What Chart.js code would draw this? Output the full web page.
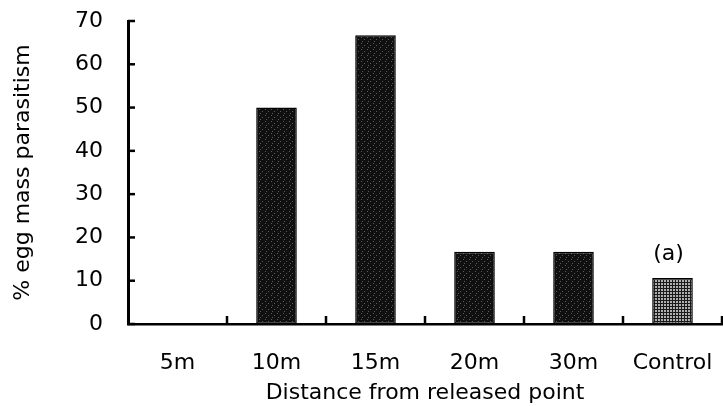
<!DOCTYPE html>
<html>
<head>
<meta charset="utf-8">
<script src="https://cdn.jsdelivr.net/npm/chart.js@4.4.1/dist/chart.umd.min.js"></script>
<style>
  html, body { margin: 0; padding: 0; background: #fff; }
  #wrap { width: 723px; height: 406px; position: relative; }
</style>
</head>
<body>
<div id="wrap"><canvas id="grafico"></canvas></div>
<script>
// Parasitismo por distância do ponto de liberação
const categorias = ['5m', '10m', '15m', '20m', '30m', 'Control'];
const parasitismo = [0, 50, 66.7, 16.7, 16.7, 10.6];
const notas = ['', '', '', '', '', '(a)'];
const yTicks = [0, 10, 20, 30, 40, 50, 60, 70];

const FONTE = '"DejaVu Sans", "Liberation Sans", sans-serif';

// textura pontilhada das barras escuras
function padraoEscuro() {
    const c = document.createElement('canvas');
    c.width = 6; c.height = 6;
    const g = c.getContext('2d');
    g.fillStyle = '#101010';
    g.fillRect(0, 0, 6, 6);
    g.fillStyle = '#5a5a5a';
    g.fillRect(1, 1, 1, 1);
    g.fillRect(4, 3, 1, 1);
    g.fillRect(2, 5, 1, 1);
    return g.createPattern(c, 'repeat');
}

// textura quadriculada do controle
function padraoGrade() {
    const c = document.createElement('canvas');
    c.width = 3; c.height = 3;
    const g = c.getContext('2d');
    g.fillStyle = '#b0b0b0';
    g.fillRect(0, 0, 3, 3);
    g.fillStyle = '#1a1a1a';
    g.fillRect(0, 0, 1, 3);
    g.fillRect(0, 0, 3, 1);
    return g.createPattern(c, 'repeat');
}

const escuro = padraoEscuro();
const grade = padraoGrade();

// marcas dos eixos voltadas para dentro + nota "(a)"
const marcasInternas = {
    id: 'marcasInternas',
    afterDatasetsDraw(chart) {
        const ctx = chart.ctx;
        const x = chart.scales.x;
        const y = chart.scales.y;
        ctx.save();
        ctx.strokeStyle = '#000';
        ctx.lineWidth = 2.5;
        // eixo y
        yTicks.forEach(v => {
            const py = y.getPixelForValue(v);
            ctx.beginPath();
            ctx.moveTo(x.left, py);
            ctx.lineTo(x.left + 7, py);
            ctx.stroke();
        });
        // eixo x: divisões entre categorias
        const passo = x.getPixelForValue(1) - x.getPixelForValue(0);
        for (let i = 0; i < categorias.length; i++) {
            const px = x.getPixelForValue(i) + passo / 2;
            ctx.beginPath();
            ctx.moveTo(px, y.bottom);
            ctx.lineTo(px, y.bottom - 8);
            ctx.stroke();
        }
        // notas sobre as barras
        const meta = chart.getDatasetMeta(0);
        ctx.fillStyle = '#000';
        ctx.font = '22px ' + FONTE;
        ctx.textAlign = 'center';
        ctx.textBaseline = 'bottom';
        notas.forEach((n, i) => {
            if (!n) return;
            const bar = meta.data[i];
            ctx.fillText(n, bar.x - 4, bar.y - 13);
        });
        ctx.restore();
    }
};

new Chart(document.getElementById('grafico').getContext('2d'), {
    type: 'bar',
    data: {
        labels: categorias,
        datasets: [{
            data: parasitismo,
            backgroundColor: categorias.map(c => c === 'Control' ? grade : escuro),
            borderColor: '#000',
            borderWidth: 1.5,
            borderSkipped: false,
            barPercentage: 0.41,
            categoryPercentage: 1
        }]
    },
    options: {
        responsive: true,
        maintainAspectRatio: false,
        animation: false,
        devicePixelRatio: 1,
        layout: { padding: { top: 21, right: 1, left: 0, bottom: 0 } },
        plugins: {
            legend: { display: false },
            tooltip: { enabled: false }
        },
        scales: {
            x: {
                grid: { display: false, drawTicks: false },
                border: { display: true, color: '#000', width: 2.5 },
                ticks: {
                    color: '#000',
                    padding: 26,
                    font: { family: FONTE, size: 22 }
                },
                title: {
                    display: true,
                    text: 'Distance from released point',
                    color: '#000',
                    font: { family: FONTE, size: 22 },
                    padding: { top: 4, bottom: 0 }
                },
                afterFit: s => {
                    s.height = 82;
                    s.paddingLeft = 0;
                    s.paddingRight = 0;
                }
            },
            y: {
                min: 0,
                max: 70,
                grid: { display: false, drawTicks: false },
                border: { display: true, color: '#000', width: 3 },
                ticks: {
                    stepSize: 10,
                    color: '#000',
                    padding: 25,
                    font: { family: FONTE, size: 22 }
                },
                title: {
                    display: true,
                    text: '% egg mass parasitism',
                    color: '#000',
                    font: { family: FONTE, size: 22 },
                    padding: { top: 10, bottom: 0 }
                },
                afterFit: s => {
                    s.width = 128;
                    s.paddingTop = 0;
                    s.paddingBottom = 0;
                }
            }
        }
    },
    plugins: [marcasInternas]
});
</script>
</body>
</html>
